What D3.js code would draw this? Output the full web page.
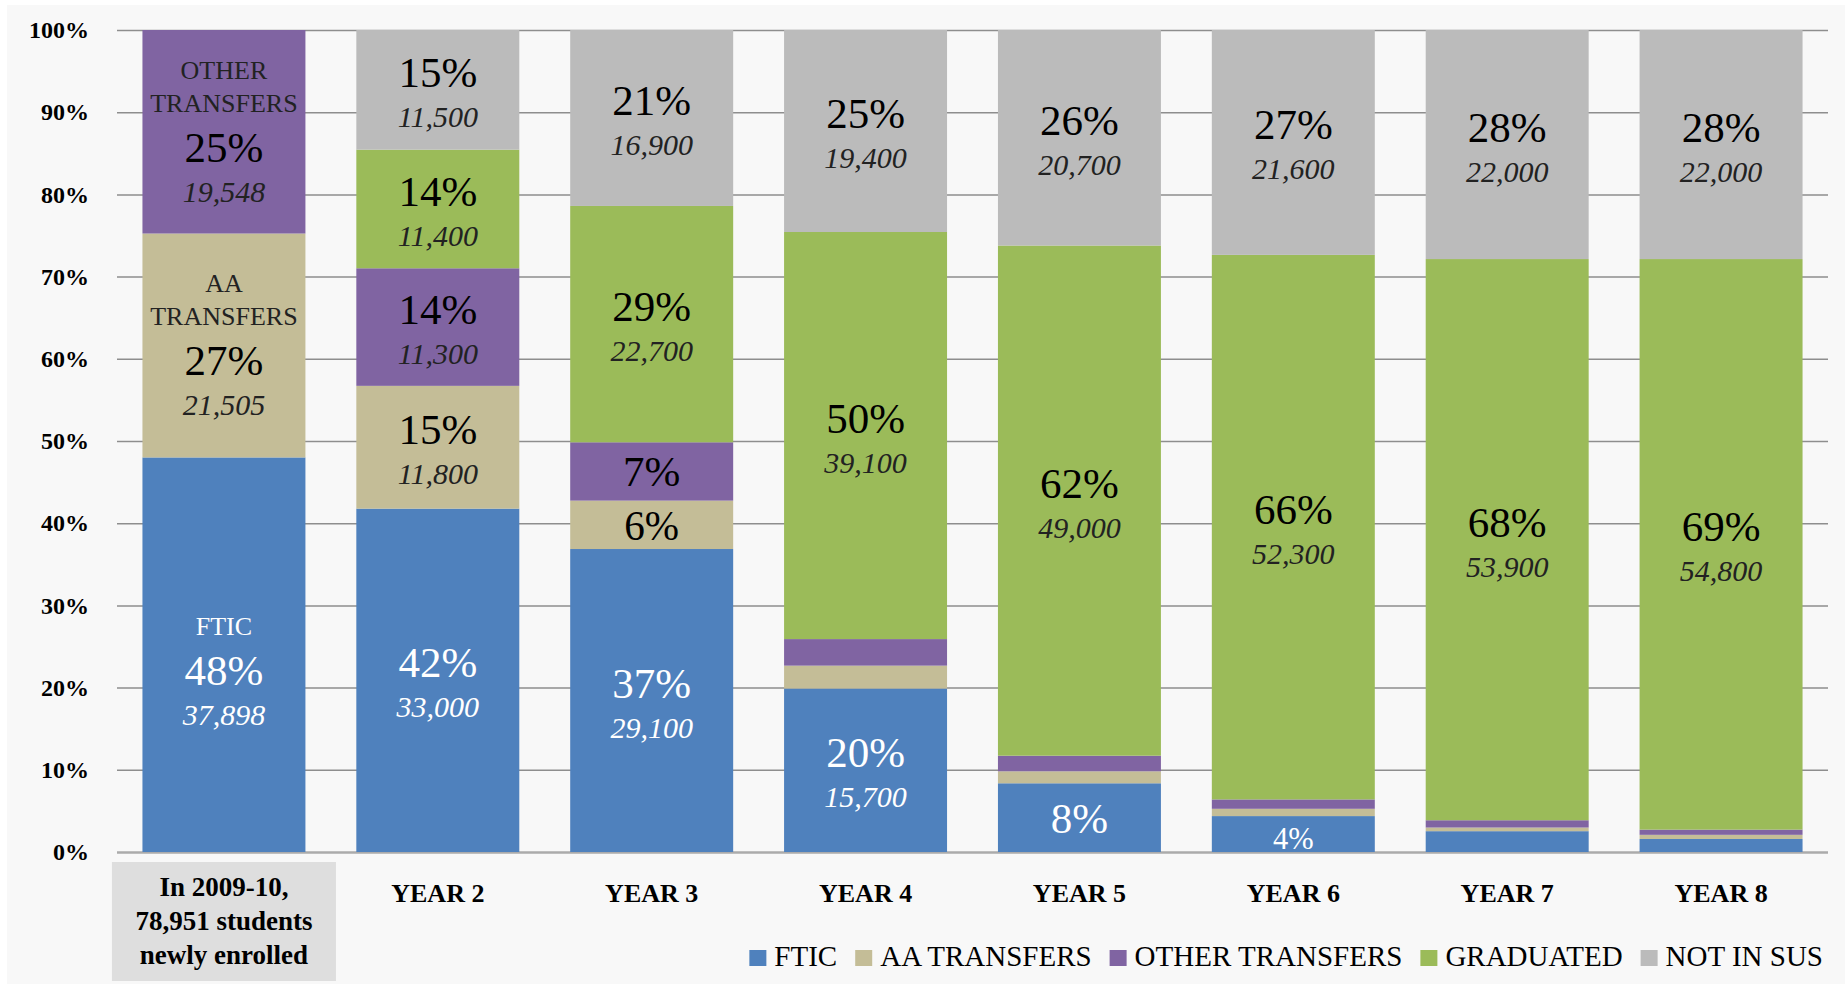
<!DOCTYPE html>
<html>
<head>
<meta charset="utf-8">
<script src="https://cdn.jsdelivr.net/npm/d3@7"></script>
<style>
  body { margin: 0; background: #fff; }
  svg text { font-family: "Liberation Serif", "DejaVu Serif", serif; }
</style>
</head>
<body>
<svg></svg>
<script>
// Chart size and plot area
const width = 1845
const height = 985
const plotLeft = 117
const plotRight = 1828
const plotTop = 30
const plotBottom = 852

// Data
const categories = ["In 2009-10, 78,951 students newly enrolled", "YEAR 2", "YEAR 3", "YEAR 4", "YEAR 5", "YEAR 6", "YEAR 7", "YEAR 8"]
const seriesNames = ["FTIC", "AA TRANSFERS", "OTHER TRANSFERS", "GRADUATED", "NOT IN SUS"]
const ftic = [37898, 33000, 29100, 15700, 6600, 3450, 2000, 1250]
const aaTransfers = [21505, 11800, 4650, 2200, 1150, 700, 350, 400]
const otherTransfers = [19548, 11300, 5600, 2550, 1500, 900, 700, 500]
const graduated = [0, 11400, 22700, 39100, 49000, 52300, 53900, 54800]
const notInSus = [0, 11500, 16900, 19400, 20700, 21600, 22000, 22000]
const yTicks = [0, 0.1, 0.2, 0.3, 0.4, 0.5, 0.6, 0.7, 0.8, 0.9, 1]
const colors = ["#4F81BD", "#C4BD97", "#8064A2", "#9BBB59", "#BBBBBB"]

const series = [ftic, aaTransfers, otherTransfers, graduated, notInSus]
const rows = categories.map((c, i) => {
    let r = {cat: c}
    seriesNames.forEach((s, j) => r[s] = series[j][i])
    return r
})

const svg = d3.select('svg')
    .attr('width', width)
    .attr('height', height)

// panel background
svg.append('rect')
    .attr('x', 7).attr('y', 5)
    .attr('width', width - 7).attr('height', 979)
    .attr('fill', '#F8F8F8')

// Scales
const xScale = d3.scaleBand()
    .domain(categories)
    .range([plotLeft, plotRight])
    .paddingInner(0.238)
    .paddingOuter(0.119)

const yScale = d3.scaleLinear()
    .domain([0, 1])
    .range([plotBottom, plotTop])

const colorScale = d3.scaleOrdinal().domain(seriesNames).range(colors)

// gridlines
const grid = svg.append('g')
    .attr('transform', 'translate(' + plotLeft + ',0)')
    .call(d3.axisLeft(yScale).tickValues(yTicks).tickSize(-(plotRight - plotLeft)).tickFormat(''))
grid.select('.domain').remove()
grid.selectAll('line')
    .attr('stroke', d => d === 0 ? '#ABABAB' : '#8E8E8E')
    .attr('stroke-width', d => d === 0 ? 2.5 : 1.5)

// y axis labels
const yAxis = svg.append('g')
    .attr('transform', 'translate(' + plotLeft + ',0)')
    .call(d3.axisLeft(yScale).tickValues(yTicks).tickSize(0).tickPadding(28).tickFormat(d3.format('.0%')))
yAxis.select('.domain').remove()
yAxis.selectAll('text')
    .attr('font-size', 24)
    .attr('font-weight', 'bold')
    .attr('fill', '#000')

// Stacked bars
const stack = d3.stack().keys(seriesNames).offset(d3.stackOffsetExpand)
const layers = stack(rows)

svg.append('g')
    .selectAll('g')
    .data(layers)
    .enter()
    .append('g')
    .attr('fill', d => colorScale(d.key))
    .selectAll('rect')
    .data(d => d)
    .enter()
    .append('rect')
    .attr('x', d => xScale(d.data.cat))
    .attr('width', xScale.bandwidth())
    .attr('y', d => yScale(d[1]))
    .attr('height', d => yScale(d[0]) - yScale(d[1]))

// Segment labels
const fmt = d3.format(',')
const labelG = svg.append('g')
layers.forEach(layer => {
    const key = layer.key
    layer.forEach((d, i) => {
        const value = d.data[key]
        const total = seriesNames.reduce((a, s) => a + d.data[s], 0)
        const share = value / total
        if (share < 0.035) return
        const y0 = yScale(d[0]), y1 = yScale(d[1])
        const h = y0 - y1
        const mid = (y0 + y1) / 2
        const cx = xScale(d.data.cat) + xScale.bandwidth() / 2
        const light = key === 'FTIC'
        const names = i === 0 ? key.split(' ') : []
        const showCount = share >= 0.1
        let base
        if (names.length) base = mid + 30
        else if (showCount) base = mid - 3
        else base = mid + 15
        const pctSize = Math.min(43, h * 0.85)

        names.forEach((n, k) => {
            labelG.append('text')
                .attr('x', cx)
                .attr('y', base - 50 - (names.length - 1 - k) * 33)
                .attr('text-anchor', 'middle')
                .attr('font-size', 26)
                .attr('fill', light ? '#fff' : '#222')
                .text(n)
        })
        labelG.append('text')
            .attr('x', cx)
            .attr('y', base)
            .attr('text-anchor', 'middle')
            .attr('font-size', pctSize)
            .attr('fill', light ? '#fff' : '#000')
            .text(Math.round(share * 100) + '%')
        if (showCount) {
            labelG.append('text')
                .attr('x', cx)
                .attr('y', base + 40)
                .attr('text-anchor', 'middle')
                .attr('font-size', 30)
                .attr('font-style', 'italic')
                .attr('fill', light ? '#fff' : '#222')
                .text(fmt(value))
        }
    })
})

// x axis
const xAxis = svg.append('g')
    .attr('transform', 'translate(0,' + plotBottom + ')')
    .call(d3.axisBottom(xScale).tickSize(0))
xAxis.select('.domain').remove()
xAxis.selectAll('text')
    .attr('y', 50)
    .attr('dy', 0)
    .attr('font-size', 26)
    .attr('font-weight', 'bold')
    .attr('fill', '#000')

// first category: boxed three-line label
const firstTick = xAxis.selectAll('.tick').filter((d, i) => i === 0)
firstTick.insert('rect', 'text')
    .attr('x', -112).attr('y', 10)
    .attr('width', 224).attr('height', 119)
    .attr('fill', '#DEDEDE')
const firstText = firstTick.select('text').text(null).attr('y', 44).attr('font-size', 27)
const firstLines = ['In 2009-10,', '78,951 students', 'newly enrolled']
firstLines.forEach((t, k) => {
    firstText.append('tspan')
        .attr('x', 0)
        .attr('dy', k === 0 ? 0 : 34)
        .text(t)
})

// legend
const legend = svg.append('g')
const items = legend.selectAll('g')
    .data(seriesNames)
    .enter()
    .append('g')
items.append('rect')
    .attr('y', 950)
    .attr('width', 17)
    .attr('height', 16)
    .attr('fill', d => colorScale(d))
items.append('text')
    .attr('x', 25)
    .attr('y', 966)
    .attr('font-size', 29)
    .attr('fill', '#000')
    .text(d => d)

let widths = []
items.select('text').each(function () { widths.push(this.getComputedTextLength()) })
const itemGap = 18
const totalW = d3.sum(widths, w => 25 + w) + itemGap * (widths.length - 1)
let lx = 1823 - totalW
items.attr('transform', (d, i) => {
    const t = 'translate(' + lx + ',0)'
    lx += 25 + widths[i] + itemGap
    return t
})
</script>
</body>
</html>
